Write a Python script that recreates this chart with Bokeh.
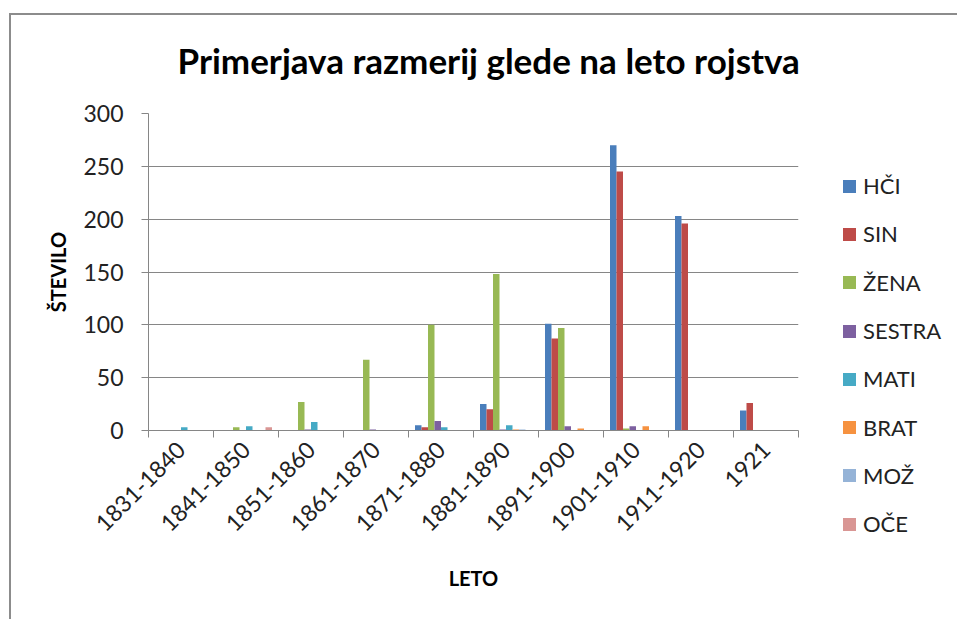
import math
from bokeh.plotting import figure
from bokeh.layouts import row
from bokeh.models import Range1d, FixedTicker, ColumnDataSource, Div
from bokeh.embed import file_html
from bokeh.resources import INLINE

categories = ["1831-1840", "1841-1850", "1851-1860", "1861-1870", "1871-1880",
              "1881-1890", "1891-1900", "1901-1910", "1911-1920", "1921"]
series_names = ["HČI", "SIN", "ŽENA", "SESTRA", "MATI", "BRAT", "MOŽ", "OČE"]
hci    = [0, 0, 0, 0, 5, 25, 101, 270, 203, 19]
sin    = [0, 0, 0, 0, 3, 20, 87, 245, 196, 26]
zena   = [0, 3, 27, 67, 100, 148, 97, 2, 0, 0]
sestra = [0, 0, 1, 1, 9, 1, 4, 4, 0, 0]
mati   = [3, 4, 8, 0, 3, 5, 0, 0, 0, 0]
brat   = [0, 0, 0, 0, 0, 1, 2, 4, 0, 0]
moz    = [0, 0, 0, 0, 0, 1, 0, 0, 0, 0]
oce    = [0, 3, 0, 0, 0, 0, 0, 0, 0, 0]
series_values = [hci, sin, zena, sestra, mati, brat, moz, oce]
colors = ["#4A7EBB", "#BE4B48", "#98B954", "#7D60A0", "#46AAC5", "#F69240", "#95B3D7", "#D99694"]
y_ticks = [0, 50, 100, 150, 200, 250, 300]

W, H = 957, 619
W1 = 820
W2 = W - W1

p = figure(width=W1, height=H, output_backend="svg", toolbar_location=None,
           x_range=Range1d(0, len(categories)), y_range=Range1d(0, 300),
           min_border_left=148, min_border_right=W1 - 798, min_border_top=113,
           min_border_bottom=H - 430,
           title="Primerjava razmerij glede na leto rojstva")
p.background_fill_color = "white"
p.border_fill_alpha = 0
p.outline_line_color = None

p.title.text_font = "Lato"
p.title.text_font_size = "35px"
p.title.text_font_style = "bold"
p.title.text_color = "black"
p.title.align = "left"
p.title.offset = 29
p.title.standoff = 65

n = len(series_names)
bw = 0.8 / n
for j, (name, vals, col) in enumerate(zip(series_names, series_values, colors)):
    xs = [i + 0.1 + (j + 0.5) * bw for i in range(len(categories))]
    src = ColumnDataSource(dict(x=xs, top=vals))
    p.vbar(x="x", top="top", width=bw, bottom=0, source=src,
           fill_color=col, line_color=None)

# x axis
xa = p.xaxis[0]
xa.ticker = FixedTicker(ticks=[i + 0.5 for i in range(len(categories))],
                        minor_ticks=list(range(len(categories) + 1)))
xa.major_label_overrides = {i + 0.5: c for i, c in enumerate(categories)}
xa.major_tick_line_color = None
xa.minor_tick_line_color = "#868686"
xa.minor_tick_in = 0
xa.minor_tick_out = 7
xa.axis_line_color = "#868686"
xa.major_label_orientation = math.pi / 4
xa.major_label_text_font = "Lato"
xa.major_label_text_font_size = "23px"
xa.major_label_text_color = "#222222"
xa.major_label_standoff = 8
xa.axis_label = "LETO"
xa.axis_label_text_font = "Lato"
xa.axis_label_text_font_size = "20px"
xa.axis_label_text_font_style = "bold"
xa.axis_label_text_color = "black"
xa.axis_label_standoff = 24

ya = p.yaxis[0]
ya.ticker = FixedTicker(ticks=y_ticks)
ya.minor_tick_line_color = None
ya.major_tick_line_color = "#868686"
ya.major_tick_in = 0
ya.major_tick_out = 7
ya.axis_line_color = "#868686"
ya.major_label_text_font = "Lato"
ya.major_label_text_font_size = "23px"
ya.major_label_text_color = "#222222"
ya.major_label_standoff = 18
ya.axis_label = "ŠTEVILO"
ya.axis_label_text_font = "Lato"
ya.axis_label_text_font_size = "20px"
ya.axis_label_text_font_style = "bold"
ya.axis_label_text_color = "black"
ya.axis_label_standoff = 10

p.xgrid.grid_line_color = None
p.ygrid.grid_line_color = "#868686"
p.ygrid.grid_line_width = 1

# legend as an HTML panel to the right of the plot
rows_html = "".join(
    f'<div style="height:48.3px;display:flex;align-items:center;">'
    f'<span style="display:inline-block;width:13px;height:13px;background:{col};'
    f'margin-right:7px;"></span><span>{name}</span></div>'
    for name, col in zip(series_names, colors)
)
legend_div = Div(
    text=(f'<div style="padding-top:162px;padding-left:23px;font-family:Lato;'
          f'font-size:22px;color:#222222;line-height:1;">{rows_html}</div>'),
    width=W2, height=H, margin=0,
)

layout = row(p, legend_div, spacing=0)
layout.styles = {
    "background": ("linear-gradient(#8C8C8C, #8C8C8C) 9px 13px / 2px 100% no-repeat, "
                   "linear-gradient(#8C8C8C, #8C8C8C) 9px 13px / 100% 2px no-repeat, "
                   "white"),
}

open("out.html", "w").write(file_html(layout, INLINE))
